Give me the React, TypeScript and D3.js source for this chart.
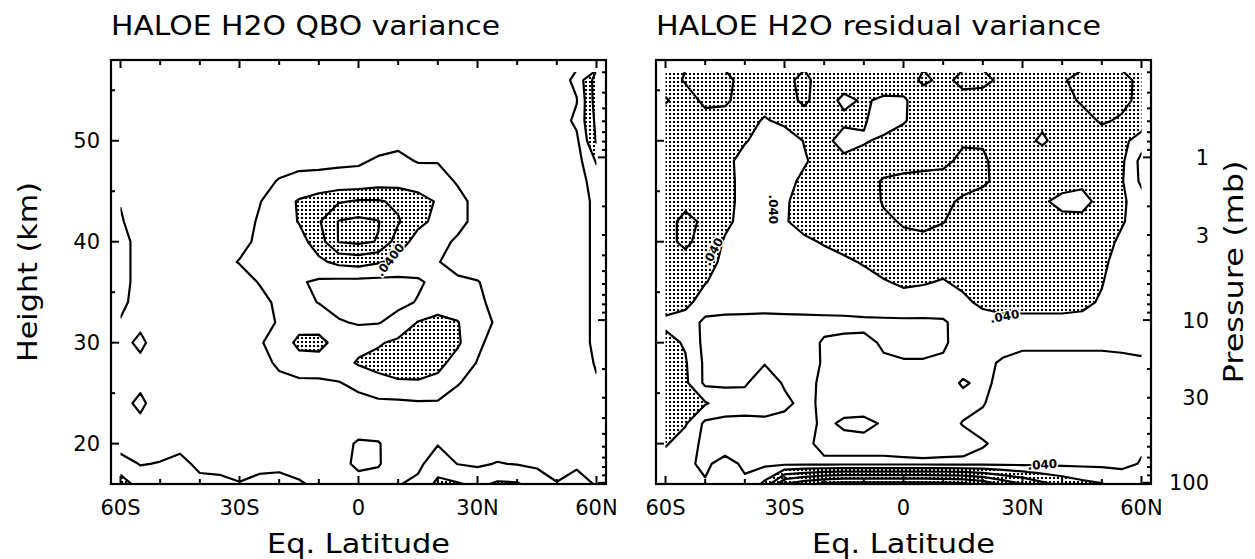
import React from "react";
import * as d3 from "d3";

// ---- grid coordinates ----
const LATS = [-60, -55, -50, -45, -40, -35, -30, -25, -20, -15, -10, -5, 0, 5, 10, 15, 20, 25, 30, 35, 40, 45, 50, 55, 60];
const HEIGHTS = [56, 54, 52, 50, 48, 46, 44, 42, 40, 38, 36, 34, 32, 30, 28, 26, 24, 22, 20, 18, 16];
const UNIT = 0.001; // grid values are in units of 1e-3
const LEVELS = [0.02, 0.04, 0.06, 0.08, 0.1, 0.12, 0.14];
const SHADE_LEVEL = 0.04;

// HALOE H2O QBO variance (rows = HEIGHTS, cols = LATS)
const QBO_VAR = [
  [6, 6, 6, 6, 6, 6, 6, 6, 6, 6, 6, 6, 6, 6, 6, 6, 6, 7, 7, 8, 8, 9, 10, 25, 70],
  [6, 6, 6, 6, 6, 6, 6, 6, 6, 6, 6, 6, 7, 7, 7, 7, 7, 7, 8, 8, 8, 9, 10, 19, 70],
  [6, 6, 6, 6, 6, 6, 6, 6, 7, 7, 7, 7, 8, 8, 8, 8, 8, 8, 8, 8, 8, 9, 10, 24, 65],
  [6, 6, 6, 6, 6, 6, 7, 7, 8, 9, 10, 11, 12, 14, 16, 13, 11, 9, 8, 8, 8, 9, 10, 16, 62],
  [7, 7, 7, 7, 7, 8, 9, 10, 14, 16, 16, 17, 18, 22, 24, 19, 19, 13, 10, 9, 9, 9, 10, 12, 42],
  [8, 8, 8, 8, 8, 9, 10, 15, 21, 24, 25, 26, 26, 30, 32, 30, 28, 18, 12, 10, 9, 9, 9, 10, 30],
  [19, 11, 8, 8, 8, 9, 11, 19, 30, 42, 50, 58, 62, 62, 56, 48, 38, 26, 14, 10, 9, 8, 8, 8, 26],
  [22, 10, 8, 8, 8, 9, 12, 22, 30, 41, 58, 81, 85, 81, 62, 45, 35, 28, 12, 9, 8, 8, 8, 8, 26],
  [28, 12, 8, 8, 8, 9, 14, 24, 26, 32, 50, 81, 84, 79, 50, 32, 28, 16, 10, 9, 8, 8, 8, 8, 26],
  [28, 12, 8, 8, 8, 14, 21, 28, 28, 30, 36, 45, 48, 42, 34, 28, 21, 12, 9, 8, 8, 8, 8, 8, 26],
  [28, 12, 8, 8, 8, 9, 12, 21, 28, 22, 17, 15, 14, 14, 15, 18, 24, 24, 21, 12, 9, 8, 8, 8, 26],
  [26, 10, 8, 8, 8, 8, 9, 14, 24, 24, 19.5, 12, 10, 11, 16, 21, 30, 28, 24, 14, 9, 8, 8, 8, 26],
  [18, 16, 8, 8, 8, 8, 9, 12, 22, 32, 28, 22, 18, 19, 26, 41, 46, 41, 26, 18, 9, 8, 8, 8, 26],
  [14, 24, 10, 8, 8, 8, 9, 18, 28, 45, 48, 30, 34, 38, 44, 48, 50, 43, 24, 12, 9, 8, 8, 10, 25],
  [12, 16, 8, 8, 8, 8, 9, 12, 24, 32, 30, 32, 42, 46, 48, 50, 46, 32, 19, 12, 9, 8, 8, 9, 22],
  [12, 16, 8, 8, 8, 8, 8, 10, 14, 16, 17, 19, 25, 34, 38, 38, 34, 21, 14, 10, 9, 8, 8, 9, 18],
  [14, 24, 10, 8, 8, 8, 8, 8, 9, 10, 11, 12, 14, 16, 16, 18, 18, 13, 10, 9, 9, 8, 8, 9, 15],
  [12, 16, 10, 9, 9, 9, 9, 9, 9, 10, 10, 11, 12, 12, 11, 11, 12, 11, 10, 10, 10, 9, 9, 10, 13],
  [12, 11, 12, 14, 11, 10, 10, 10, 10, 10, 10, 14, 22, 21, 12, 12, 19, 12, 11, 11, 11, 10, 10, 10, 11],
  [28, 19, 21, 26, 15, 14, 12, 14, 15, 13, 13, 14, 24, 21, 13, 16, 30, 19.5, 17, 21, 19, 17, 12, 16, 12],
  [50, 32, 30, 30, 26, 25, 21, 26, 27, 22, 16, 14, 13, 15, 19, 24, 45, 42, 35, 43, 42, 30, 21, 30, 18],
];

// HALOE H2O residual variance (rows = HEIGHTS, cols = LATS)
const RESID_VAR = [
  [50, 62, 66, 66, 52, 50, 55, 65, 50, 48, 45, 50, 48, 64, 55, 65, 66, 55, 50, 55, 58, 66, 68, 66, 55],
  [62, 50, 65, 64, 50, 48, 52, 64, 48, 36, 42, 37, 38, 48, 52, 54, 50, 50, 48, 52, 55, 62, 66, 64, 56],
  [50, 52, 52, 50, 47, 38, 45, 50, 46, 44, 42, 30, 38, 50, 52, 58, 56, 52, 48, 44, 50, 54, 62, 58, 52],
  [50, 52, 50, 48, 42, 30, 28, 41, 46, 32, 38, 44, 50, 52, 56, 58, 58, 50, 46, 37, 48, 50, 52, 46, 30],
  [52, 54, 52, 48, 30, 28, 30, 38, 48, 45, 48, 50, 52, 54, 56, 64, 63, 52, 50, 50, 50, 48, 48, 44, 14],
  [54, 58, 56, 48, 32, 30, 34, 44, 48, 46, 52, 62, 65, 66, 66, 65, 64, 52, 48, 48, 46, 44, 46, 42, 16],
  [56, 57, 56, 46, 34, 32, 38, 46, 48, 46, 48, 62, 64, 64, 63, 58, 50, 46, 45, 42, 36, 34, 46, 44, 28],
  [56, 63, 58, 44, 34, 33, 39, 44, 46, 46, 48, 56, 62, 63, 61, 50, 46, 46, 44, 45, 44, 45, 48, 42, 30],
  [56, 63, 54, 38, 32, 30, 34, 38, 41, 44, 46, 47, 55, 57, 50, 46, 46, 46, 44, 46, 46, 46, 48, 36, 30],
  [54, 55, 50, 34, 30, 28, 30, 34, 36, 38, 41, 45, 46, 47, 45, 45, 46, 46, 45, 46, 46, 46, 44, 32, 30],
  [52, 52, 41, 32, 28, 27, 28, 30, 32, 33, 36, 39, 42, 41, 39, 43, 46, 46, 45, 46, 46, 46, 41, 30, 28],
  [48, 46, 30, 28, 27, 26, 27, 28, 29, 30, 31, 33, 35, 34, 34, 37, 43, 45, 45, 45, 45, 44, 38, 28, 26],
  [36, 30, 16, 15, 15, 15, 15, 15, 15, 15, 16, 16, 16, 16, 17, 30, 34, 36, 36, 36, 36, 35, 30, 26, 24],
  [46, 38, 14, 12, 12, 13, 13, 13, 22, 24, 24, 18, 16, 16, 18, 26, 28, 26, 24, 24, 24, 24, 24, 24, 24],
  [48, 42, 16, 12, 11, 19, 12, 12, 22, 26, 28, 22, 21, 21, 22, 28, 24, 18, 14, 14, 14, 14, 14, 16, 18],
  [50, 44, 16, 17, 18, 30, 18, 14, 24, 28, 30, 30, 30, 30, 28, 18, 24, 15, 12, 12, 12, 12, 12, 15, 18],
  [50, 46, 42, 30, 28, 30, 24, 15, 24, 28, 30, 30, 30, 30, 28, 26, 21, 13, 12, 12, 12, 12, 12, 15, 18],
  [48, 42, 16, 15, 15, 15, 14, 13, 24, 17, 15, 22, 28, 30, 28, 19, 16, 13, 12, 12, 12, 12, 12, 15, 18],
  [42, 30, 15, 14, 14, 15, 15, 15, 26, 26, 26, 26, 28, 30, 28, 27, 21, 17, 15, 15, 15, 15, 15, 16, 18],
  [30, 22, 18, 24, 18, 16, 16, 16, 16, 16, 16, 16, 16, 16, 16, 16, 16, 16, 16, 16, 16, 16, 16, 16, 21],
  [22, 21, 21, 24, 22, 45, 100, 115, 125, 130, 130, 130, 130, 130, 128, 125, 115, 95, 80, 65, 55, 46, 41, 31, 24],
];

// ---- axes ----
const LAT_TICKS = [-60, -30, 0, 30, 60];
const LAT_TICK_LABELS = ["60S", "30S", "0", "30N", "60N"];
const LAT_MINOR = [-60, -50, -40, -30, -20, -10, 0, 10, 20, 30, 40, 50, 60];
const HEIGHT_TICKS = [20, 30, 40, 50];
const HEIGHT_MINOR = [20, 25, 30, 35, 40, 45, 50, 55];
const PRESSURE_TICKS = [1, 3, 10, 30, 100];
const PRESSURE_MAJOR = [1, 10, 100];
const PRESSURE_MINOR = [0.3, 0.4, 0.5, 0.6, 0.7, 0.8, 0.9, 2, 3, 4, 5, 6, 7, 8, 9, 20, 30, 40, 50, 60, 70, 80, 90];
const SCALE_HEIGHT = 7;

const PANEL_W = 495;
const TOP = 60;
const BOTTOM = 484;
const FONT = "DejaVu Sans, Verdana, sans-serif";

type LabelSpec = { lat: number; h: number; rot: number; text: string };

const pToZ = (p: number) => SCALE_HEIGHT * Math.log(1000 / p);

function Panel(props: {
  left: number;
  grid: number[][];
  id: string;
  title: string;
  titleLen: number;
  labels: LabelSpec[];
  leftLabels: boolean;
  rightLabels: boolean;
}) {
  const { left, grid, id, title, titleLen, labels, leftLabels, rightLabels } = props;
  const right = left + PANEL_W;
  const xs = d3.scaleLinear().domain([-62.4, 62.4]).range([left, right]);
  const ys = d3.scaleLinear().domain([16, 58]).range([BOTTOM, TOP]);

  const nx = LATS.length;
  const ny = HEIGHTS.length;
  const dLat = LATS[1] - LATS[0];
  const dH = HEIGHTS[0] - HEIGHTS[1];
  const values = grid.flat().map((v) => v * UNIT);
  const contours = d3.contours().size([nx, ny]).thresholds(LEVELS)(values);
  const proj = d3.geoTransform({
    point: function (this: any, x: number, y: number) {
      this.stream.point(xs(LATS[0] + (x - 0.5) * dLat), ys(HEIGHTS[0] - (y - 0.5) * dH));
    },
  });
  const path = d3.geoPath(proj as any);
  const shade = contours.find((c) => Math.abs(c.value - SHADE_LEVEL) < 1e-9);

  const cx0 = xs(-60);
  const cx1 = xs(60);
  const cy0 = ys(56.8);
  const cy1 = ys(16);

  return (
    <g>
      <defs>
        <clipPath id={`clip-${id}`}>
          <rect x={cx0} y={cy0} width={cx1 - cx0} height={cy1 - cy0} />
        </clipPath>
      </defs>
      <text x={left} y={35} fontFamily={FONT} fontSize={27} textLength={titleLen} lengthAdjust="spacingAndGlyphs">
        {title}
      </text>
      <g clipPath={`url(#clip-${id})`}>
        {shade && <path d={path(shade as any) || ""} fill="url(#dots)" fillRule="evenodd" stroke="none" />}
        {contours.map((c, i) => (
          <path key={i} d={path(c as any) || ""} fill="none" stroke="#000" strokeWidth={2.2} strokeLinejoin="round" />
        ))}
      </g>
      {labels.map((l, i) => (
        <text
          key={i}
          transform={`translate(${xs(l.lat)},${ys(l.h)}) rotate(${l.rot})`}
          fontFamily={FONT}
          fontSize={12}
          fontWeight="bold"
          textAnchor="middle"
          dominantBaseline="central"
          stroke="#fff"
          strokeWidth={3}
          paintOrder="stroke"
        >
          {l.text}
        </text>
      ))}
      <rect x={left} y={TOP} width={PANEL_W} height={BOTTOM - TOP} fill="none" stroke="#000" strokeWidth={2.2} />
      {LAT_MINOR.map((t) => {
        const major = t % 30 === 0;
        const len = major ? 8 : 5;
        return (
          <g key={`lt${t}`}>
            <line x1={xs(t)} x2={xs(t)} y1={BOTTOM} y2={BOTTOM - len} stroke="#000" strokeWidth={2} />
            <line x1={xs(t)} x2={xs(t)} y1={TOP} y2={TOP + len} stroke="#000" strokeWidth={2} />
          </g>
        );
      })}
      {LAT_TICKS.map((t, i) => (
        <text key={`ll${t}`} x={xs(t)} y={515} fontFamily={FONT} fontSize={21} textAnchor="middle">
          {LAT_TICK_LABELS[i]}
        </text>
      ))}
      {HEIGHT_MINOR.map((h) => {
        const len = h % 10 === 0 ? 8 : 4;
        return <line key={`h${h}`} x1={left} x2={left + len} y1={ys(h)} y2={ys(h)} stroke="#000" strokeWidth={2} />;
      })}
      {leftLabels &&
        HEIGHT_TICKS.map((h) => (
          <text key={`hl${h}`} x={100} y={ys(h) + 7.5} fontFamily={FONT} fontSize={21} textAnchor="end">
            {h}
          </text>
        ))}
      {PRESSURE_MINOR.concat(PRESSURE_MAJOR).map((p, i) => {
        const len = PRESSURE_MAJOR.includes(p) ? 8 : 4;
        return <line key={`p${i}`} x1={right} x2={right - len} y1={ys(pToZ(p))} y2={ys(pToZ(p))} stroke="#000" strokeWidth={2} />;
      })}
      {rightLabels &&
        PRESSURE_TICKS.map((p) => (
          <text key={`pl${p}`} x={right + 58} y={ys(pToZ(p)) + 7.5} fontFamily={FONT} fontSize={21} textAnchor="end">
            {p}
          </text>
        ))}
      <text x={(left + right) / 2} y={553} fontFamily={FONT} fontSize={26} textAnchor="middle" textLength={183} lengthAdjust="spacingAndGlyphs">
        Eq. Latitude
      </text>
    </g>
  );
}

const QBO_LABELS: LabelSpec[] = [{ lat: 8, h: 38.2, rot: -52, text: ".0400" }];
const RESID_LABELS: LabelSpec[] = [
  { lat: -33, h: 43.2, rot: 90, text: ".040" },
  { lat: -48, h: 39, rot: -62, text: ".040" },
  { lat: 25.5, h: 32.6, rot: -10, text: ".040" },
  { lat: 35, h: 17.9, rot: -4, text: ".040" },
];

export default function App() {
  return (
    <svg width={1255} height={559} style={{ position: "absolute", left: 0, top: 0, background: "#fff" }}>
      <defs>
        <pattern id="dots" x={0} y={0} width={4} height={4} patternUnits="userSpaceOnUse">
          <rect x={1} y={1} width={2} height={2} fill="#000" shapeRendering="crispEdges" />
        </pattern>
      </defs>
      <rect width={1255} height={559} fill="#fff" />
      <Panel left={111} grid={QBO_VAR} id="qbo" title="HALOE H2O QBO variance" titleLen={389} labels={QBO_LABELS} leftLabels={true} rightLabels={false} />
      <Panel left={656} grid={RESID_VAR} id="res" title="HALOE H2O residual variance" titleLen={445} labels={RESID_LABELS} leftLabels={false} rightLabels={true} />
      <text transform="translate(37,272) rotate(-90)" fontFamily={FONT} fontSize={26} textAnchor="middle" textLength={180} lengthAdjust="spacingAndGlyphs">
        Height (km)
      </text>
      <text transform="translate(1243,272) rotate(-90)" fontFamily={FONT} fontSize={26} textAnchor="middle" textLength={223} lengthAdjust="spacingAndGlyphs">
        Pressure (mb)
      </text>
    </svg>
  );
}
